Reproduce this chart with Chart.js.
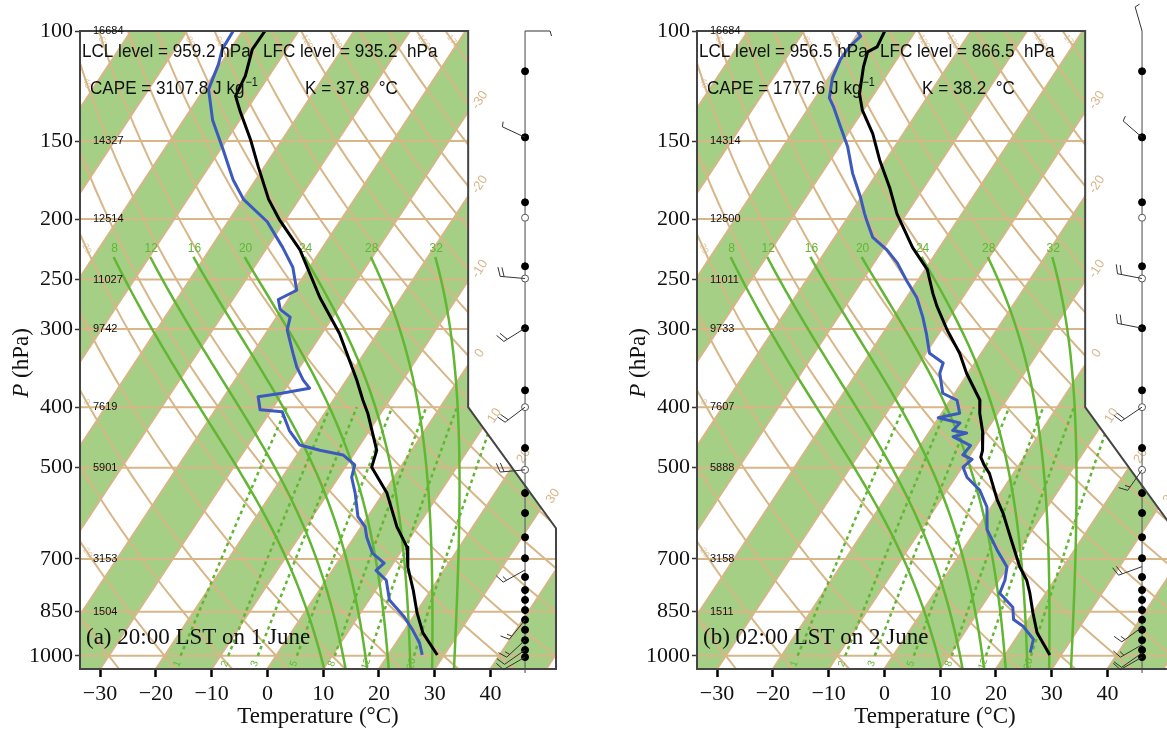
<!DOCTYPE html>
<html>
<head>
<meta charset="utf-8">
<title>Skew-T soundings</title>
<script src="https://cdn.jsdelivr.net/npm/chart.js@4.4.1/dist/chart.umd.min.js"></script>
<style>
  html, body { margin: 0; padding: 0; background: #fff; }
  body { width: 1167px; height: 731px; overflow: hidden; position: relative; }
  .panel { position: absolute; top: 0; width: 620px; height: 731px; }
</style>
</head>
<body>
<div class="panel" style="left:0"><canvas id="skewA"></canvas></div>
<div class="panel" style="left:617px"><canvas id="skewB"></canvas></div>
<script>
// ---------------- sounding (a) 20:00 LST 1 June ----------------
const presA_T = [100,107,118,127,134,149,165,186,201,224,267,305,362,390,409,469,499,549,622,670,721,785,854,919,997];
const tempA   = [-76.0,-76.1,-74.2,-73.6,-71.1,-65.8,-61.1,-55.4,-50.9,-43.8,-34.6,-26.8,-18.2,-14.7,-12.3,-6.3,-5.2,0.6,6.4,10.6,13.1,16.8,20.2,23.6,28.8];
const presA_Td = [100,107,113,124,139,155,173,186,202,222,239,260,269,279,287,301,328,345,362,373,380,385,404,407,436,460,469,477,495,518,549,599,622,646,685,711,730,757,814,867,909,954,997];
const dewA     = [-81.7,-81.5,-80.4,-79.2,-74.8,-69.4,-64.1,-59.9,-53.0,-47.2,-43.0,-39.6,-41.8,-40.3,-37.6,-36.6,-32.8,-30.5,-27.8,-25.7,-30.1,-33.9,-32.0,-27.8,-24.3,-20.7,-16.5,-11.8,-8.5,-7.6,-5.1,-1.8,0.7,2.2,5.1,8.4,7.8,10.8,13.7,18.4,21.4,24.2,26.1];
const heightsA = [16684,14327,12514,11027,9742,7619,5901,3153,1504];
const windDotsA = [116,148,188,238,299,376,465,549,591,646,698,748,785,814,845,876,909,944,979,1005];
const windOpenA = [148,199,249,400,504];
const barbPresA = [100,148,249,299,400,504,729,876,944,979,1005];
const barbDirA  = [90,295,275,238,233,265,241,219,227,235,240];
const barbSpdA  = [5,5,20,20,20,20,15,15,15,10,10];

// ---------------- sounding (b) 02:00 LST 2 June ----------------
const presB_T = [100,106,108,114,126,134,146,161,178,196,222,241,263,276,301,328,353,390,409,440,469,481,494,511,563,591,622,660,721,757,794,854,919,997];
const tempB   = [-75.5,-75.0,-76.1,-75.1,-72.6,-70.1,-65.5,-61.1,-56.1,-51.7,-44.9,-39.6,-35.8,-33.5,-28.9,-23.9,-20.3,-14.7,-13.2,-10.3,-8.3,-7.8,-6.4,-4.3,0.2,2.8,5.2,8.0,12.2,15.0,17.1,20.0,23.1,28.0];
const presB_Td = [100,102,105,107,111,119,128,132,142,153,169,184,196,201,214,224,235,251,267,287,305,328,340,353,380,390,409,416,424,436,440,446,461,477,485,499,518,543,578,628,677,721,757,794,836,875,898,941,988];
const dewB     = [-80.4,-79.2,-79.8,-80.0,-80.1,-79.3,-77.5,-75.8,-72.2,-68.5,-64.4,-60.3,-57.5,-56.3,-53.2,-49.2,-45.8,-42.0,-38.2,-34.8,-32.2,-29.3,-25.7,-25.1,-22.2,-18.8,-16.8,-20.1,-15.6,-16.0,-13.2,-15.2,-11.0,-11.3,-9.1,-9.8,-7.9,-4.1,-0.8,1.9,6.1,9.9,11.1,11.7,15.7,17.3,19.9,23.2,24.2];
const heightsB = [16684,14314,12500,11011,9733,7607,5888,3158,1511];
const windDotsB = [116,148,188,238,299,376,465,549,591,646,698,748,785,814,845,876,909,944,979,1005];
const windOpenB = [148,199,249,400,504];
const barbPresB = [100,148,249,299,400,504,720,900,960,990,1005];
const barbDirB  = [344,311,281,281,236,215,250,234,240,235,240];
const barbSpdB  = [5,5,20,20,20,15,20,15,15,10,10];

// ---------------- diagram layout ----------------
const TEMP_TICKS = [-30,-20,-10,0,10,20,30,40];
const PRES_TICKS = [100,150,200,250,300,400,500,700,850,1000];
const HEIGHT_LEVELS = [100,150,200,250,300,400,500,700,850];
const ISOBARS = [150,200,250,300,400,500,700,850,1000];
const MOIST_THW = [8,12,16,20,24,28,32];
const MIX_RATIOS = [1,2,3,5,8,12,20];

const SKEW = 74.0;              // isotherm skew, degC per decade of pressure
const P_BOT = 1050, P_TOP = 100;
const X_MIN = -33.6, X_MAX = 51.75;
const WIND_X = 46.2;
// diagram outline (x axis value, pressure)
const OUTLINE = [[X_MIN,1050],[X_MAX,1050],[X_MAX,625],[36.0,400],[36.0,100],[X_MIN,100]];

const SERIF = '"Liberation Serif", "Times New Roman", serif';
const SANS = '"Liberation Sans", Arial, sans-serif';
const GREEN_BAND = 'rgb(164,207,132)';
const TAN = 'rgb(215,182,136)';
const GREEN_LINE = 'rgb(98,182,52)';

const panels = {
  skewA: {
    presT: presA_T, temp: tempA, presTd: presA_Td, dew: dewA, heights: heightsA,
    dots: windDotsA, open: windOpenA, barbP: barbPresA, barbD: barbDirA, barbS: barbSpdA,
    lcl: 'LCL level = 959.2 hPa', lfc: 'LFC level = 935.2  hPa', cape: 'CAPE = 3107.8 J kg', k: 'K = 37.8  \u00B0C',
    caption: '(a) 20:00 LST on 1 June'
  },
  skewB: {
    presT: presB_T, temp: tempB, presTd: presB_Td, dew: dewB, heights: heightsB,
    dots: windDotsB, open: windOpenB, barbP: barbPresB, barbD: barbDirB, barbS: barbSpdB,
    lcl: 'LCL level = 956.5 hPa', lfc: 'LFC level = 866.5  hPa', cape: 'CAPE = 1777.6 J kg', k: 'K = 38.2  \u00B0C',
    caption: '(b) 02:00 LST on 2 June'
  }
};

function skewX(T, p) { return T + SKEW * Math.log10(P_BOT / p); }
function profile(ps, ts) { return ps.map((p, i) => ({ x: skewX(ts[i], p), y: p })); }

function dryT(theta, p) { return (theta + 273.15) * Math.pow(p / 1000, 0.2857) - 273.15; }
function mixT(w, p) {
  const es = (w / 1000) * p / (0.622 + w / 1000);
  const l = Math.log(es / 6.112);
  return 243.5 * l / (17.67 - l);
}
function moistAdiabat(thw) {
  const grad = (Tk, p) => {
    const tc = Tk - 273.15;
    const es = 6.112 * Math.exp(17.67 * tc / (tc + 243.5));
    const rs = 0.622 * es / (p - es);
    return (287.04 * Tk + 2.501e6 * rs) / (1005.7 + 2.501e6 * 2.501e6 * rs * 0.622 / (287.04 * Tk * Tk)) / p;
  };
  const step = (Tk, p, dp) => { const k1 = grad(Tk, p); return Tk + grad(Tk + k1 * dp / 2, p + dp / 2) * dp; };
  let T = thw + 273.15;
  for (let p = 1000; p < 1050; p += 5) T = step(T, p, 5);
  const pts = [];
  for (let p = 1050; p >= 230; p -= 10) { pts.push([T - 273.15, p]); T = step(T, p, -10); }
  return pts;
}
function edgeX(p) {   // right edge of the diagram at pressure p
  if (p <= 400) return 36.0;
  if (p >= 625) return X_MAX;
  return 36.0 + (X_MAX - 36.0) * Math.log(p / 400) / Math.log(625 / 400);
}
function solveP(fn, lo, hi) {
  let flo = fn(lo);
  if (flo * fn(hi) > 0) return null;
  for (let i = 0; i < 40; i++) {
    const m = Math.sqrt(lo * hi), fm = fn(m);
    if (fm * flo <= 0) hi = m; else { lo = m; flo = fm; }
  }
  return Math.sqrt(lo * hi);
}

function drawBarb(ctx, x0, y0, dir, spd) {
  const a = dir * Math.PI / 180;
  const ux = Math.sin(a), uy = -Math.cos(a);
  const fx = -uy, fy = ux;
  const L = 25;
  ctx.beginPath();
  ctx.moveTo(x0, y0);
  ctx.lineTo(x0 + ux * L, y0 + uy * L);
  let d = L, left = spd;
  while (left >= 10) {
    const bx = x0 + ux * d, by = y0 + uy * d;
    ctx.moveTo(bx, by); ctx.lineTo(bx + fx * 9 + ux * 3, by + fy * 9 + uy * 3);
    d -= 4; left -= 10;
  }
  if (left >= 5) {
    const bx = x0 + ux * d, by = y0 + uy * d;
    ctx.moveTo(bx, by); ctx.lineTo(bx + fx * 5 + ux * 1.5, by + fy * 5 + uy * 1.5);
  }
  ctx.stroke();
}

function squeezed(ctx, text, x, y, size, sx) {
  ctx.save();
  ctx.font = size + 'px ' + SANS;
  const w = ctx.measureText(text).width * sx;
  ctx.translate(x, y); ctx.scale(sx, 1);
  ctx.fillText(text, 0, 0);
  ctx.restore();
  return w;
}

const skewPlugin = {
  id: 'skewT',
  beforeDatasetsDraw(chart) {
    const { ctx, scales: { x, y } } = chart;
    const pt = (T, p) => [x.getPixelForValue(skewX(T, p)), y.getPixelForValue(p)];
    const poly = pts => { ctx.beginPath(); pts.forEach((q, i) => i ? ctx.lineTo(q[0], q[1]) : ctx.moveTo(q[0], q[1])); };
    const outline = () => poly(OUTLINE.map(o => [x.getPixelForValue(o[0]), y.getPixelForValue(o[1])]));
    const logSteps = (p0, p1, n) => Array.from({ length: n + 1 }, (_, i) => p0 * Math.pow(p1 / p0, i / n));

    ctx.save();
    outline(); ctx.closePath();
    ctx.fillStyle = '#fff'; ctx.fill();
    ctx.clip();
    // alternate 10-degree bands
    ctx.fillStyle = GREEN_BAND;
    for (let t = -120; t <= 40; t += 20) {
      poly([pt(t, 100), pt(t + 10, 100), pt(t + 10, 1050), pt(t, 1050)]);
      ctx.closePath(); ctx.fill();
    }
    ctx.strokeStyle = TAN; ctx.lineWidth = 2;
    for (let t = -120; t <= 50; t += 10) { poly([pt(t, 100), pt(t, 1050)]); ctx.stroke(); }
    ISOBARS.forEach(p => { poly([[x.left, y.getPixelForValue(p)], [x.right, y.getPixelForValue(p)]]); ctx.stroke(); });
    const ps = logSteps(100, 1050, 40);
    for (let th = -40; th <= 180; th += 10) { poly(ps.map(p => pt(dryT(th, p), p))); ctx.stroke(); }
    // saturated adiabats
    ctx.strokeStyle = GREEN_LINE; ctx.lineWidth = 2.5;
    MOIST_THW.forEach(w => { poly(moistAdiabat(w).map(q => pt(q[0], q[1]))); ctx.stroke(); });
    // mixing ratio lines
    ctx.setLineDash([3.5, 3.5]);
    const pm = logSteps(1000, 400, 12);
    MIX_RATIOS.forEach(w => { poly(pm.map(p => pt(mixT(w, p), p))); ctx.stroke(); });
    ctx.setLineDash([]);
    ctx.restore();

    // labels of the background lines
    ctx.save();
    ctx.fillStyle = GREEN_LINE;
    ctx.font = '12px ' + SANS;
    ctx.textAlign = 'center'; ctx.textBaseline = 'middle';
    MOIST_THW.forEach(w => {
      const c = moistAdiabat(w), top = c[c.length - 1];
      const q = pt(top[0], top[1]);
      ctx.fillText(String(w), q[0] + 1, q[1] - 8);
    });
    ctx.font = '10px ' + SANS;
    MIX_RATIOS.forEach(w => {
      const q = pt(mixT(w, 1030), 1030), r = pt(mixT(w, 980), 980);
      ctx.save(); ctx.translate(q[0], q[1]); ctx.rotate(Math.atan2(r[1] - q[1], r[0] - q[0]));
      ctx.fillText(String(w), 0, 0); ctx.restore();
    });
    ctx.fillStyle = TAN;
    ctx.font = '13px ' + SANS;
    for (let t = -30; t <= 30; t += 10) {
      const p = solveP(pp => skewX(t, pp) - edgeX(pp), 100, 1050);
      if (!p) continue;
      const q = pt(t, p), r = pt(t, p * 0.9);
      const ang = Math.atan2(r[1] - q[1], r[0] - q[0]);
      ctx.save(); ctx.translate(q[0] + Math.cos(ang) * 14 + 4, q[1] + Math.sin(ang) * 14);
      ctx.rotate(ang); ctx.fillText(String(t), 0, 0); ctx.restore();
    }
    ctx.font = '9px ' + SANS;
    ctx.globalAlpha = 0.8;
    for (let th = 50; th <= 170; th += 10) {
      const q = pt(dryT(th, 104), 104), r = pt(dryT(th, 110), 110);
      if (q[0] < x.left + 6 || q[0] > x.getPixelForValue(36.0) - 6) continue;
      ctx.save(); ctx.translate(q[0], q[1]); ctx.rotate(Math.atan2(r[1] - q[1], r[0] - q[0]));
      ctx.fillText(String(th), 0, 0); ctx.restore();
    }
    for (let th = -30; th <= 40; th += 10) {
      const p = solveP(pp => skewX(dryT(th, pp), pp) - (X_MIN + 1.2), 100, 1050);
      if (!p) continue;
      const q = pt(dryT(th, p), p), r = pt(dryT(th, p * 1.05), p * 1.05);
      ctx.save(); ctx.translate(q[0], q[1]); ctx.rotate(Math.atan2(r[1] - q[1], r[0] - q[0]));
      ctx.fillText(String(th), 0, 0); ctx.restore();
    }
    ctx.restore();

    // wind staff
    ctx.save();
    ctx.strokeStyle = '#666'; ctx.lineWidth = 1.2;
    const sx = x.getPixelForValue(WIND_X);
    poly([[sx, y.getPixelForValue(100)], [sx, y.getPixelForValue(1050) + 4]]); ctx.stroke();
    ctx.restore();
  },
  afterDatasetsDraw(chart) {
    const { ctx, scales: { x, y } } = chart;
    const info = panels[chart.canvas.id];
    ctx.save();
    ctx.strokeStyle = '#444'; ctx.lineWidth = 2;
    ctx.beginPath();
    OUTLINE.forEach((o, i) => {
      const px = x.getPixelForValue(o[0]), py = y.getPixelForValue(o[1]);
      i ? ctx.lineTo(px, py) : ctx.moveTo(px, py);
    });
    ctx.closePath(); ctx.stroke();
    ctx.strokeStyle = '#333'; ctx.lineWidth = 1;
    const sx = x.getPixelForValue(WIND_X);
    info.barbP.forEach((p, i) => drawBarb(ctx, sx, y.getPixelForValue(p), info.barbD[i], info.barbS[i]));
    ctx.restore();
  },
  afterDraw(chart) {
    const { ctx, chartArea: ca, scales: { y } } = chart;
    const info = panels[chart.canvas.id];
    ctx.save();
    ctx.fillStyle = '#111';
    ctx.font = '11px ' + SANS;
    ctx.textAlign = 'left'; ctx.textBaseline = 'middle';
    HEIGHT_LEVELS.forEach((p, i) => ctx.fillText(String(info.heights[i]), ca.left + 13, y.getPixelForValue(p)));
    ctx.textBaseline = 'alphabetic';
    squeezed(ctx, info.lcl, ca.left + 2, 57, 19, 0.9);
    squeezed(ctx, info.lfc, ca.left + 183, 57, 19, 0.9);
    const w = squeezed(ctx, info.cape, ca.left + 10, 94, 19, 0.9);
    squeezed(ctx, '\u22121', ca.left + 10 + w + 1, 86, 12, 0.9);
    squeezed(ctx, info.k, ca.left + 225, 94, 19, 0.9);
    ctx.font = '23px ' + SERIF;
    ctx.fillText(info.caption, ca.left + 6, 644);
    // pressure axis title with italic P
    ctx.translate(22, 363); ctx.rotate(-Math.PI / 2);
    ctx.textBaseline = 'middle';
    ctx.font = 'italic 23px ' + SERIF;
    const w1 = ctx.measureText('P').width;
    ctx.font = '23px ' + SERIF;
    const w2 = ctx.measureText(' (hPa)').width;
    ctx.font = 'italic 23px ' + SERIF;
    ctx.fillText('P', -(w1 + w2) / 2, 0);
    ctx.font = '23px ' + SERIF;
    ctx.fillText(' (hPa)', -(w1 + w2) / 2 + w1, 0);
    ctx.restore();
  }
};

function fmtTemp(v) { return v < 0 ? '\u2212' + Math.abs(v) : String(v); }

function makeChart(id) {
  const info = panels[id];
  return new Chart(document.getElementById(id), {
    type: 'scatter',
    data: {
      datasets: [
        { label: 'Temperature', data: profile(info.presT, info.temp), showLine: true,
          borderColor: '#000', borderWidth: 3, pointRadius: 0, borderJoinStyle: 'round' },
        { label: 'Dew point', data: profile(info.presTd, info.dew), showLine: true,
          borderColor: 'rgb(60,90,190)', borderWidth: 3, pointRadius: 0, borderJoinStyle: 'round' },
        { label: 'Wind levels', data: info.dots.map(p => ({ x: WIND_X, y: p })),
          pointRadius: 3.5, pointBackgroundColor: '#000', pointBorderColor: '#000', clip: false },
        { label: 'Wind levels (open)', data: info.open.map(p => ({ x: WIND_X, y: p })),
          pointRadius: 3.5, pointBackgroundColor: '#fff', pointBorderColor: '#555', pointBorderWidth: 1, clip: false }
      ]
    },
    options: {
      responsive: true, maintainAspectRatio: false, animation: false, devicePixelRatio: 1,
      events: [],
      layout: { padding: { left: 0, top: 31, right: 64, bottom: 0 } },
      plugins: { legend: { display: false }, tooltip: { enabled: false } },
      scales: {
        x: {
          type: 'linear', min: X_MIN, max: X_MAX,
          afterBuildTicks: s => { s.ticks = TEMP_TICKS.map(v => ({ value: v })); },
          afterFit: s => { s.height = 62; },
          grid: { drawOnChartArea: false, drawTicks: true, tickLength: 8, tickWidth: 2.5, tickColor: '#000' },
          border: { display: false },
          ticks: { padding: 4, color: '#111', font: { family: SERIF, size: 22 }, maxRotation: 0, autoSkip: false, callback: v => fmtTemp(v) },
          title: { display: true, text: 'Temperature (\u00B0C)', color: '#111', font: { family: SERIF, size: 23 }, padding: { top: 0, bottom: 0 } }
        },
        y: {
          type: 'logarithmic', reverse: true, min: 100, max: 1050,
          afterBuildTicks: s => { s.ticks = PRES_TICKS.map(v => ({ value: v })); },
          afterFit: s => { s.width = 80; },
          grid: { drawOnChartArea: false, drawTicks: true, tickLength: 5, tickWidth: 1.5, tickColor: '#333' },
          border: { display: false },
          ticks: { padding: 2, color: '#111', font: { family: SERIF, size: 22 }, autoSkip: false, callback: v => String(v) }
        }
      }
    },
    plugins: [skewPlugin]
  });
}

makeChart('skewA');
makeChart('skewB');
</script>
</body>
</html>
